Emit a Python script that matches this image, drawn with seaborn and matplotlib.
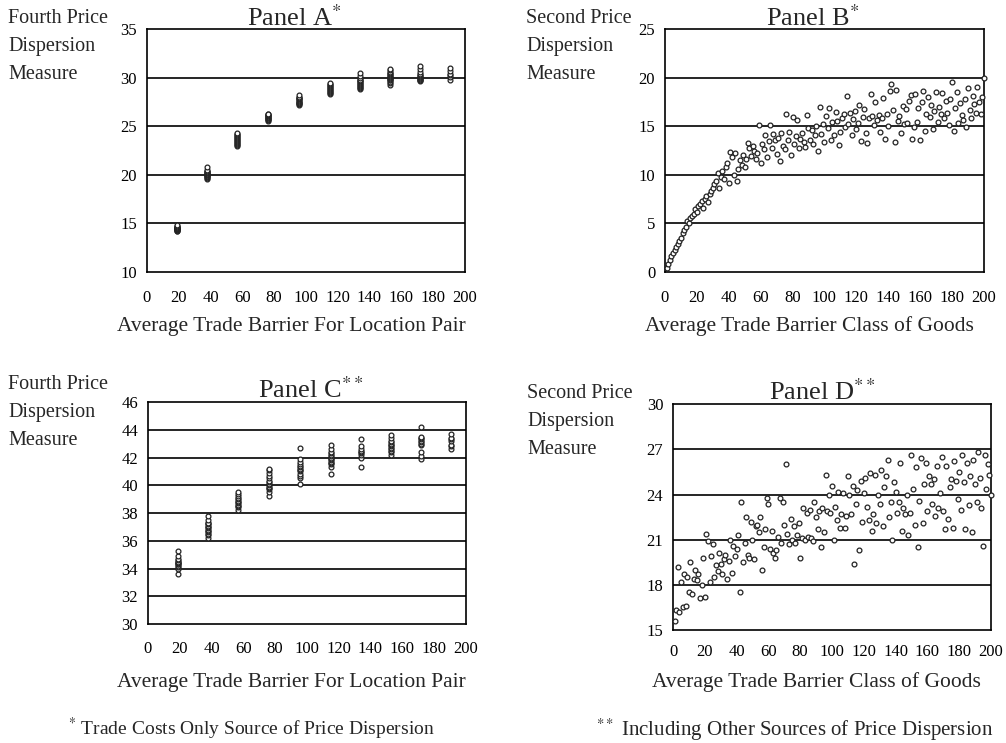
import numpy as np
import pandas as pd
import seaborn as sns
import matplotlib.pyplot as plt

# Panels A and C: clusters of location pairs
cluster_x = [19, 38, 57, 76, 95.5, 115, 134, 153, 172, 191]

panel_a_y = [
    [14.2, 14.25, 14.3, 14.35, 14.4, 14.4, 14.45, 14.5, 14.5, 14.55, 14.6, 14.65, 14.7, 14.8],
    [19.6, 19.7, 19.8, 19.85, 19.9, 20.0, 20.05, 20.1, 20.2, 20.25, 20.3, 20.4, 20.5, 20.8],
    [23.0, 23.1, 23.2, 23.3, 23.4, 23.5, 23.6, 23.7, 23.8, 23.9, 24.0, 24.1, 24.2, 24.3],
    [25.5, 25.6, 25.7, 25.75, 25.8, 25.9, 25.95, 26.0, 26.1, 26.15, 26.2, 26.3],
    [27.2, 27.3, 27.35, 27.4, 27.5, 27.6, 27.7, 27.8, 27.85, 27.9, 28.0, 28.2],
    [28.3, 28.4, 28.5, 28.6, 28.7, 28.8, 28.9, 29.0, 29.1, 29.2, 29.3, 29.4],
    [28.8, 28.9, 29.0, 29.1, 29.2, 29.3, 29.4, 29.5, 29.6, 29.7, 29.8, 30.0, 30.2, 30.5],
    [29.2, 29.4, 29.5, 29.7, 29.8, 29.9, 30.0, 30.1, 30.2, 30.3, 30.4, 30.5, 30.6, 30.8, 30.9],
    [29.6, 29.7, 29.8, 29.9, 30.0, 30.1, 30.2, 30.3, 30.4, 30.6, 30.9, 31.2],
    [29.8, 30.1, 30.3, 30.4, 30.7, 31.0],
]

panel_c_y = [
    [33.6, 34.0, 34.1, 34.2, 34.3, 34.35, 34.4, 34.45, 34.5, 34.6, 34.7, 34.9, 35.3],
    [36.2, 36.4, 36.5, 36.6, 36.7, 36.8, 36.9, 37.0, 37.1, 37.2, 37.25, 37.3, 37.5, 37.8],
    [38.2, 38.4, 38.5, 38.6, 38.7, 38.8, 38.9, 39.0, 39.1, 39.2, 39.4, 39.5],
    [39.2, 39.5, 39.7, 39.8, 39.9, 40.0, 40.1, 40.2, 40.3, 40.5, 40.7, 40.9, 41.1, 41.2],
    [40.1, 40.5, 40.7, 40.8, 41.0, 41.1, 41.2, 41.3, 41.4, 41.5, 41.7, 41.9, 42.7],
    [40.8, 41.3, 41.5, 41.6, 41.7, 41.8, 41.9, 42.0, 42.1, 42.2, 42.3, 42.4, 42.6, 42.9],
    [41.3, 42.0, 42.2, 42.3, 42.4, 42.5, 42.6, 42.8, 43.3],
    [42.2, 42.4, 42.5, 42.6, 42.7, 42.8, 42.9, 43.0, 43.1, 43.2, 43.4, 43.6],
    [41.9, 42.1, 42.4, 42.9, 43.0, 43.1, 43.2, 43.3, 43.4, 43.5, 44.2],
    [42.6, 42.8, 42.9, 43.2, 43.3, 43.4, 43.7],
]

# Panels B and D: one point per class of goods
goods_x = list(range(1, 201))

panel_b_y = [
    0.4, 0.8, 1.2, 1.6, 1.9, 2.3, 2.6, 2.9, 3.2, 3.5,
    4.0, 4.3, 4.6, 5.2, 5.0, 5.5, 5.8, 6.0, 6.5, 6.2,
    6.8, 7.0, 7.3, 6.6, 7.5, 7.8, 7.2, 8.0, 8.3, 8.6,
    9.0, 9.4, 10.2, 8.6, 9.8, 10.4, 9.6, 10.8, 11.2, 9.2,
    12.3, 11.8, 10.0, 12.2, 9.4, 10.6, 11.5, 11.0, 12.0, 10.8,
    11.6, 13.3, 12.8, 11.9, 13.0, 12.4, 11.6, 12.2, 15.1, 11.2,
    13.2, 12.6, 14.1, 11.8, 13.5, 15.1, 12.8, 14.2, 13.6, 12.1,
    13.8, 11.4, 14.3, 13.0, 12.7, 16.2, 13.6, 14.4, 12.0, 15.9,
    13.2, 14.0, 15.6, 12.8, 13.7, 14.3, 13.4, 12.9, 16.1, 14.8,
    13.6, 14.6, 13.2, 14.1, 15.0, 12.4, 17.0, 14.2, 15.2, 13.4,
    16.0, 14.8, 16.9, 13.6, 15.4, 14.1, 16.5, 15.5, 13.1, 14.4,
    15.8, 16.3, 14.9, 18.1, 15.2, 16.4, 14.1, 15.7, 16.6, 14.7,
    15.3, 17.2, 13.5, 15.9, 16.8, 14.3, 13.3, 15.8, 18.3, 16.0,
    15.1, 17.5, 15.6, 16.1, 14.4, 15.8, 17.9, 13.7, 16.2, 15.0,
    18.6, 19.3, 16.7, 13.4, 18.7, 15.5, 16.0, 14.3, 17.1, 15.2,
    16.8, 15.3, 17.6, 18.2, 13.7, 14.9, 18.3, 15.4, 16.9, 13.6,
    17.5, 18.6, 14.5, 16.3, 18.0, 15.9, 17.2, 14.7, 16.6, 18.5,
    15.4, 17.0, 16.2, 18.4, 15.8, 17.6, 16.4, 15.1, 17.8, 19.5,
    14.5, 16.9, 18.5, 15.3, 17.4, 16.1, 15.6, 17.8, 14.9, 18.9,
    16.7, 15.8, 18.1, 17.3, 16.4, 19.0, 17.5, 16.2, 18.0, 20.0,
]

panel_d_y = [
    15.6, 16.3, 19.2, 16.2, 18.2, 16.5, 18.7, 16.6, 18.5, 17.5,
    19.5, 17.4, 18.4, 19.0, 18.3, 18.7, 17.1, 18.0, 19.8, 17.2,
    21.4, 20.9, 18.2, 19.9, 20.7, 18.5, 19.3, 18.9, 20.1, 19.4,
    18.7, 19.7, 20.0, 18.4, 19.6, 21.0, 18.8, 20.6, 19.9, 20.4,
    21.3, 17.5, 23.5, 19.5, 20.8, 22.5, 20.0, 19.8, 22.2, 21.0,
    19.7, 21.9, 22.0, 21.5, 22.5, 19.0, 20.5, 21.7, 23.8, 23.4,
    20.4, 21.6, 20.1, 19.8, 20.3, 21.2, 23.8, 20.8, 23.5, 22.0,
    26.0, 21.4, 20.7, 22.4, 21.0, 21.9, 20.8, 21.3, 22.1, 19.8,
    21.1, 23.1, 21.0, 22.8, 21.2, 23.0, 21.1, 20.9, 23.5, 22.5,
    21.7, 22.9, 20.5, 23.1, 21.5, 25.3, 22.9, 24.0, 22.8, 24.6,
    21.0, 23.2, 22.3, 24.2, 21.8, 22.7, 24.1, 21.8, 22.6, 25.2,
    24.0, 22.7, 24.6, 19.4, 23.4, 24.3, 20.3, 24.9, 22.2, 24.1,
    25.1, 23.2, 22.3, 25.4, 21.6, 22.7, 25.3, 22.1, 24.0, 23.4,
    25.6, 21.9, 24.5, 25.2, 26.3, 22.5, 23.5, 21.0, 24.8, 24.2,
    22.8, 23.5, 26.1, 21.6, 23.1, 22.7, 24.0, 21.3, 22.8, 26.6,
    24.4, 22.0, 25.8, 20.5, 23.6, 26.4, 22.1, 24.7, 26.1, 22.9,
    25.2, 24.7, 23.4, 25.0, 22.6, 25.9, 23.1, 24.1, 26.5, 22.9,
    21.7, 25.9, 22.4, 24.5, 25.0, 21.8, 26.2, 24.9, 23.7, 25.5,
    23.0, 26.6, 24.8, 21.7, 26.1, 23.3, 25.2, 21.5, 26.3, 24.7,
    23.5, 26.8, 25.1, 23.1, 20.6, 26.6, 24.4, 26.0, 25.3, 24.0,
]

x_ticks = list(range(0, 201, 20))


def clusters_to_frame(xs, ys):
    rows = [(x, y) for x, col in zip(xs, ys) for y in col]
    return pd.DataFrame(rows, columns=['x', 'y'])


sns.set_style('white')
plt.rcParams['font.family'] = ['Liberation Serif', 'DejaVu Serif']
plt.rcParams['mathtext.fontset'] = 'stix'

fig = plt.figure(figsize=(10.06, 7.43), dpi=100)


def draw_panel(rect, df, title, xlabel, yticks, title_xy, xlabel_xy, side_xy, side_text, pad):
    ax = fig.add_axes(rect)
    sns.scatterplot(data=df, x='x', y='y', ax=ax, marker='o', s=12,
                    facecolor='white', edgecolor='#222222', linewidth=0.9,
                    zorder=3, clip_on=False)
    ax.set_xlim(0, 200)
    ax.set_ylim(yticks[0], yticks[-1])
    ax.set_xticks(x_ticks)
    ax.set_yticks(yticks)
    ax.tick_params(axis='both', direction='out', length=3, width=1,
                   labelsize=12, colors='black')
    ax.tick_params(axis='x', pad=pad)
    ax.tick_params(axis='y', pad=4)
    for y in yticks[1:-1]:
        ax.axhline(y, color='black', linewidth=1.2, zorder=1)
    for s in ax.spines.values():
        s.set_color('black')
        s.set_linewidth(1.2)
    ax.set_xlabel('')
    ax.set_ylabel('')
    fig.text(title_xy[0], title_xy[1], title, fontsize=19, ha='center', va='baseline')
    fig.text(xlabel_xy[0], xlabel_xy[1], xlabel, fontsize=15.5, ha='center', va='baseline')
    fig.text(side_xy[0], side_xy[1], side_text, fontsize=14.5, ha='left', va='top',
             linespacing=1.65)
    return ax


df_a = clusters_to_frame(cluster_x, panel_a_y)
df_c = clusters_to_frame(cluster_x, panel_c_y)
df_b = pd.DataFrame({'x': goods_x, 'y': panel_b_y})
df_d = pd.DataFrame({'x': goods_x, 'y': panel_d_y})

fourth = 'Fourth Price\nDispersion\nMeasure'
second = 'Second Price\nDispersion\nMeasure'

draw_panel([0.146, 0.634, 0.316, 0.327], df_a, 'Panel A$^{*}$',
           'Average Trade Barrier For Location Pair', [10, 15, 20, 25, 30, 35],
           (0.293, 0.965), (0.290, 0.555), (0.008, 0.988), fourth, 10)
draw_panel([0.661, 0.634, 0.317, 0.327], df_b, 'Panel B$^{*}$',
           'Average Trade Barrier Class of Goods', [0, 5, 10, 15, 20, 25],
           (0.808, 0.965), (0.805, 0.555), (0.523, 0.988), second, 10)
draw_panel([0.147, 0.160, 0.316, 0.299], df_c, 'Panel C$^{**}$',
           'Average Trade Barrier For Location Pair', list(range(30, 47, 2)),
           (0.309, 0.464), (0.290, 0.075), (0.008, 0.495), fourth, 9)
draw_panel([0.669, 0.152, 0.316, 0.304], df_d, 'Panel D$^{**}$',
           'Average Trade Barrier Class of Goods', [15, 18, 21, 24, 27, 30],
           (0.817, 0.462), (0.812, 0.075), (0.524, 0.483), second, 7)

# footnotes
fig.text(0.250, 0.010, '$^{*}$ Trade Costs Only Source of Price Dispersion',
         fontsize=14, ha='center', va='baseline')
fig.text(0.790, 0.010, '$^{**}$ Including Other Sources of Price Dispersion',
         fontsize=15, ha='center', va='baseline')

fig.savefig('out.png', dpi=100)
